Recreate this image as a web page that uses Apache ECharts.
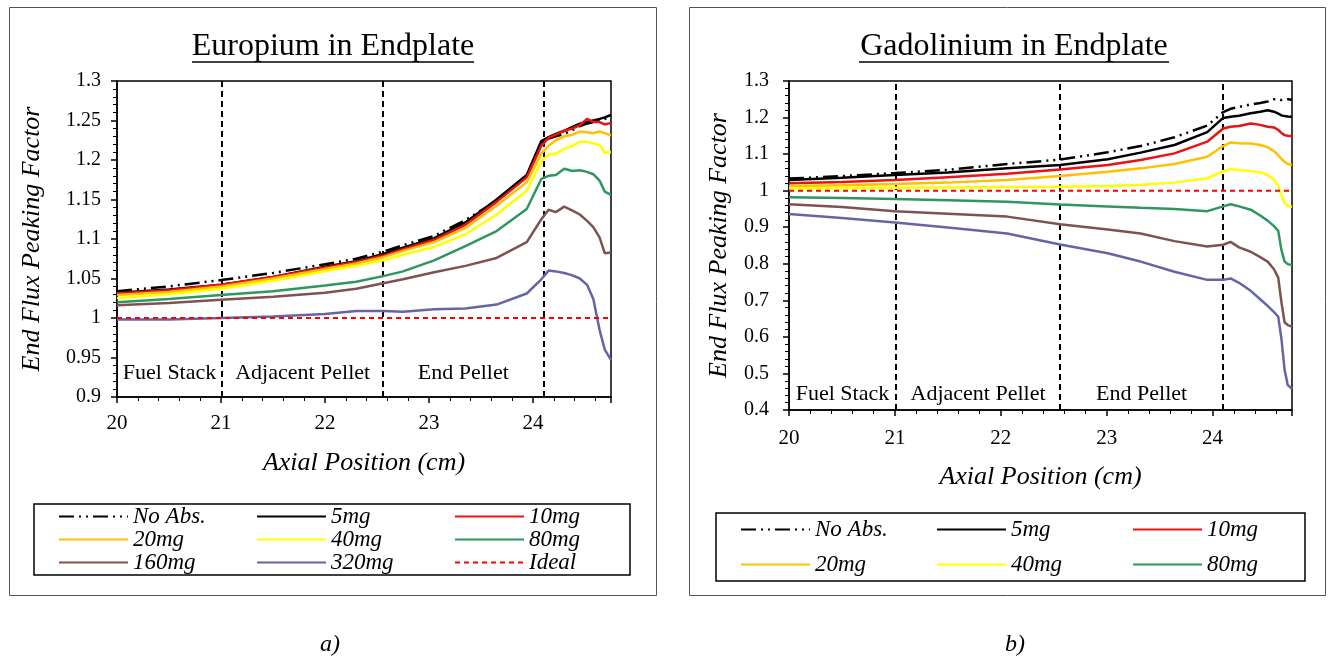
<!DOCTYPE html>
<html>
<head>
<meta charset="utf-8">
<script src="https://cdn.jsdelivr.net/npm/echarts@6/dist/echarts.min.js"></script>
<style>
html, body { margin: 0; padding: 0; background: #fff; }
#echart { width: 1337px; height: 656px; }
</style>
</head>
<body>
<div id="echart"></div>
<script>
// 系列名称与分区
var seriesNames = ['No Abs.', '5mg', '10mg', '20mg', '40mg', '80mg', '160mg', '320mg'];
var idealName = 'Ideal';
var idealValue = 1;
var boundaries = [21.01, 22.56, 24.1];
var regionNames = ['Fuel Stack', 'Adjacent Pellet', 'End Pellet'];

// a) Europium
var euX = [20, 20.5, 21, 21.5, 22, 22.3, 22.56, 22.75, 23.05, 23.35, 23.65, 23.94, 24.08, 24.15, 24.22, 24.3, 24.38, 24.45, 24.52, 24.58, 24.64, 24.69, 24.75];
var euNoAbs = [1.034, 1.040, 1.048, 1.057, 1.068, 1.075, 1.084, 1.092, 1.104, 1.124, 1.148, 1.181, 1.221, 1.227, 1.230, 1.233, 1.238, 1.243, 1.246, 1.248, 1.250, 1.252, 1.254];
var eu5 = [1.032, 1.036, 1.042, 1.052, 1.065, 1.072, 1.081, 1.089, 1.101, 1.121, 1.150, 1.181, 1.224, 1.229, 1.233, 1.237, 1.242, 1.246, 1.248, 1.250, 1.252, 1.254, 1.257];
var eu10 = [1.031, 1.035, 1.042, 1.052, 1.064, 1.071, 1.079, 1.087, 1.099, 1.118, 1.147, 1.178, 1.218, 1.228, 1.232, 1.237, 1.240, 1.244, 1.252, 1.248, 1.248, 1.245, 1.247];
var eu20 = [1.029, 1.033, 1.040, 1.050, 1.062, 1.069, 1.077, 1.085, 1.096, 1.114, 1.142, 1.172, 1.208, 1.218, 1.225, 1.230, 1.232, 1.236, 1.235, 1.234, 1.236, 1.234, 1.231];
var eu40 = [1.025, 1.030, 1.037, 1.047, 1.059, 1.066, 1.073, 1.080, 1.090, 1.106, 1.131, 1.161, 1.198, 1.207, 1.208, 1.214, 1.218, 1.223, 1.223, 1.221, 1.219, 1.209, 1.210];
var eu80 = [1.020, 1.024, 1.029, 1.034, 1.041, 1.046, 1.053, 1.059, 1.073, 1.091, 1.110, 1.138, 1.176, 1.180, 1.181, 1.189, 1.186, 1.187, 1.185, 1.182, 1.174, 1.160, 1.156];
var eu160 = [1.016, 1.019, 1.023, 1.027, 1.032, 1.037, 1.044, 1.049, 1.058, 1.066, 1.076, 1.096, 1.125, 1.137, 1.134, 1.141, 1.136, 1.131, 1.123, 1.115, 1.102, 1.082, 1.083];
var eu320 = [0.998, 0.998, 1.000, 1.002, 1.005, 1.009, 1.009, 1.008, 1.011, 1.012, 1.017, 1.031, 1.049, 1.060, 1.059, 1.057, 1.054, 1.050, 1.042, 1.024, 0.985, 0.960, 0.947];

// b) Gadolinium
var gdX = [20, 20.5, 21, 21.5, 22.06, 22.56, 23.01, 23.32, 23.64, 23.95, 24.1, 24.17, 24.25, 24.36, 24.45, 24.52, 24.58, 24.62, 24.65, 24.68, 24.71, 24.75];
var gdNoAbs = [1.033, 1.040, 1.048, 1.057, 1.073, 1.085, 1.105, 1.122, 1.146, 1.178, 1.215, 1.224, 1.229, 1.236, 1.240, 1.244, 1.250, 1.250, 1.248, 1.249, 1.250, 1.249];
var gd5 = [1.029, 1.035, 1.043, 1.050, 1.061, 1.070, 1.086, 1.104, 1.125, 1.160, 1.199, 1.202, 1.205, 1.212, 1.216, 1.220, 1.216, 1.211, 1.206, 1.204, 1.203, 1.202];
var gd10 = [1.020, 1.024, 1.029, 1.037, 1.046, 1.058, 1.070, 1.084, 1.102, 1.134, 1.170, 1.175, 1.177, 1.184, 1.180, 1.175, 1.173, 1.166, 1.158, 1.152, 1.150, 1.149];
var gd20 = [1.013, 1.015, 1.018, 1.022, 1.029, 1.040, 1.052, 1.061, 1.073, 1.093, 1.122, 1.132, 1.130, 1.129, 1.125, 1.119, 1.108, 1.097, 1.087, 1.079, 1.073, 1.070];
var gd40 = [1.006, 1.007, 1.008, 1.009, 1.010, 1.011, 1.013, 1.016, 1.022, 1.034, 1.053, 1.059, 1.056, 1.054, 1.050, 1.043, 1.030, 1.013, 0.988, 0.966, 0.958, 0.956];
var gd80 = [0.982, 0.980, 0.977, 0.974, 0.970, 0.962, 0.957, 0.953, 0.950, 0.944, 0.957, 0.963, 0.957, 0.948, 0.932, 0.918, 0.903, 0.890, 0.838, 0.806, 0.799, 0.797];
var gd160 = [0.963, 0.955, 0.944, 0.937, 0.929, 0.908, 0.894, 0.883, 0.862, 0.847, 0.852, 0.860, 0.845, 0.833, 0.818, 0.806, 0.785, 0.762, 0.695, 0.640, 0.632, 0.628];
var gd320 = [0.936, 0.925, 0.913, 0.899, 0.883, 0.853, 0.829, 0.806, 0.778, 0.756, 0.756, 0.760, 0.748, 0.726, 0.703, 0.685, 0.668, 0.655, 0.595, 0.510, 0.468, 0.458];

var lineColors = ['#000000', '#000000', '#ee1111', '#ffc000', '#ffff00', '#2f9662', '#7f5252', '#6565a5'];
var serif = '"Liberation Serif", "Times New Roman", serif';

function pairs(xs, ys) {
	return xs.map(function(x, i) { return [x, ys[i]]; });
}

function buildSeries(idx, xs, valueLists) {
	var list = valueLists.map(function(ys, i) {
		return {
			name: seriesNames[i],
			type: 'line',
			xAxisIndex: idx,
			yAxisIndex: idx,
			showSymbol: false,
			symbol: 'none',
			silent: true,
			data: pairs(xs, ys),
			lineStyle: {
				color: lineColors[i],
				width: 2.5,
				type: i === 0 ? [15, 5, 2, 5, 2, 5] : 'solid'
			},
			itemStyle: { color: lineColors[i] },
			z: 3 + i
		};
	});
	var regions = regionNames.map(function(name, i) {
		return [{ xAxis: i === 0 ? xs[0] : boundaries[i - 1], name: name }, { xAxis: boundaries[i] }];
	});
	list.push({
		name: idealName,
		type: 'line',
		xAxisIndex: idx,
		yAxisIndex: idx,
		showSymbol: false,
		symbol: 'none',
		silent: true,
		data: xs.map(function(x) { return [x, idealValue]; }),
		lineStyle: { color: '#ff0000', width: 2, type: [5, 4] },
		itemStyle: { color: '#ff0000' },
		z: 20,
		markLine: {
			silent: true,
			symbol: 'none',
			label: { show: false },
			lineStyle: { color: '#000', width: 2, type: [6, 4] },
			data: boundaries.map(function(b) { return { xAxis: b }; })
		},
		markArea: {
			silent: true,
			itemStyle: { color: 'rgba(0,0,0,0)' },
			label: {
				position: 'insideBottom',
				distance: idx === 0 ? 13 : 5,
				color: '#000',
				fontFamily: serif,
				fontSize: 22
			},
			data: regions
		}
	});
	return list;
}

function xAxisOf(idx, gap, margin) {
	return {
		type: 'value',
		gridIndex: idx,
		min: 20,
		max: 24.75,
		interval: 1,
		name: 'Axial Position (cm)',
		nameLocation: 'middle',
		nameGap: gap,
		nameTextStyle: { fontFamily: serif, fontStyle: 'italic', fontSize: 26, color: '#000' },
		axisLine: { lineStyle: { color: '#000', width: 1.5 } },
		axisTick: { length: 6, lineStyle: { color: '#000', width: 1.5 } },
		minorTick: { show: true, splitNumber: 5, length: 4, lineStyle: { color: '#000', width: 1 } },
		splitLine: { show: false },
		axisLabel: { margin: margin, fontFamily: serif, fontSize: 21, color: '#000', showMaxLabel: false }
	};
}

function yAxisOf(idx, min, interval, gap, margin) {
	return {
		type: 'value',
		gridIndex: idx,
		min: min,
		max: 1.3,
		interval: interval,
		name: 'End Flux Peaking Factor',
		nameLocation: 'middle',
		nameGap: gap,
		nameTextStyle: { fontFamily: serif, fontStyle: 'italic', fontSize: 26, color: '#000' },
		axisLine: { lineStyle: { color: '#000', width: 1.5 } },
		axisTick: { length: 6, lineStyle: { color: '#000', width: 1.5 } },
		minorTick: { show: true, splitNumber: 5, length: 4, lineStyle: { color: '#000', width: 1 } },
		splitLine: { show: false },
		axisLabel: { margin: margin, fontFamily: serif, fontSize: 20, color: '#000' }
	};
}

function legendOf(left, top, gap, names) {
	return {
		orient: 'vertical',
		left: left,
		top: top,
		itemGap: gap,
		itemWidth: 69,
		itemHeight: 14,
		selectedMode: false,
		padding: 0,
		itemStyle: { opacity: 0 },
		textStyle: { fontFamily: serif, fontStyle: 'italic', fontSize: 23, lineHeight: 23, color: '#000' },
		data: names
	};
}

var myChart = echarts.init(document.getElementById('echart'));
myChart.setOption({
	backgroundColor: '#fff',
	animation: false,
	grid: [
		{ left: 117, top: 81, width: 494, height: 316, show: true, borderColor: '#000', borderWidth: 1.5 },
		{ left: 789, top: 81, width: 503, height: 329, show: true, borderColor: '#000', borderWidth: 1.5 }
	],
	xAxis: [xAxisOf(0, 53, 16), xAxisOf(1, 54, 18)],
	yAxis: [yAxisOf(0, 0.9, 0.05, 72, 16), yAxisOf(1, 0.4, 0.1, 57, 20)],
	legend: [
		legendOf(58, 505, 0, ['No Abs.', '20mg', '160mg']),
		legendOf(256, 505, 0, ['5mg', '40mg', '320mg']),
		legendOf(454, 505, 0, ['10mg', '80mg', 'Ideal']),
		legendOf(740, 518, 12, ['No Abs.', '20mg']),
		legendOf(936, 518, 12, ['5mg', '40mg']),
		legendOf(1132, 518, 12, ['10mg', '80mg'])
	],
	graphic: [
		{ type: 'rect', shape: { x: 9.5, y: 7.5, width: 647, height: 588 }, style: { fill: 'none', stroke: '#555', lineWidth: 1 }, z: -1, silent: true },
		{ type: 'rect', shape: { x: 689.5, y: 7.5, width: 636, height: 588 }, style: { fill: 'none', stroke: '#555', lineWidth: 1 }, z: -1, silent: true },
		{ type: 'rect', shape: { x: 34, y: 504, width: 596, height: 71 }, style: { fill: 'none', stroke: '#000', lineWidth: 1.5 }, silent: true },
		{ type: 'rect', shape: { x: 716, y: 513, width: 589, height: 68 }, style: { fill: 'none', stroke: '#000', lineWidth: 1.5 }, silent: true },
		{ type: 'text', x: 333, y: 47, silent: true, style: { text: 'Europium in Endplate', fill: '#000', font: '32px ' + serif, align: 'center', verticalAlign: 'middle', textAlign: 'center', textVerticalAlign: 'middle' } },
		{ type: 'line', shape: { x1: 192, y1: 62, x2: 474, y2: 62 }, style: { stroke: '#000', lineWidth: 1.5 }, silent: true },
		{ type: 'text', x: 1014, y: 47, silent: true, style: { text: 'Gadolinium in Endplate', fill: '#000', font: '32px ' + serif, align: 'center', verticalAlign: 'middle', textAlign: 'center', textVerticalAlign: 'middle' } },
		{ type: 'line', shape: { x1: 859, y1: 62, x2: 1169, y2: 62 }, style: { stroke: '#000', lineWidth: 1.5 }, silent: true },
		{ type: 'text', x: 330, y: 645, silent: true, style: { text: 'a)', fill: '#000', font: 'italic 24px ' + serif, align: 'center', verticalAlign: 'middle', textAlign: 'center', textVerticalAlign: 'middle' } },
		{ type: 'text', x: 1015, y: 645, silent: true, style: { text: 'b)', fill: '#000', font: 'italic 24px ' + serif, align: 'center', verticalAlign: 'middle', textAlign: 'center', textVerticalAlign: 'middle' } }
	],
	series: buildSeries(0, euX, [euNoAbs, eu5, eu10, eu20, eu40, eu80, eu160, eu320])
		.concat(buildSeries(1, gdX, [gdNoAbs, gd5, gd10, gd20, gd40, gd80, gd160, gd320]))
});
</script>
</body>
</html>
